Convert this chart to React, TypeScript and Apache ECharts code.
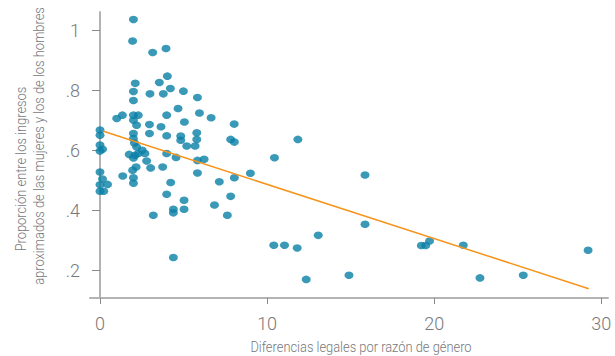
import React, { useEffect, useRef } from "react";
import * as echarts from "echarts";

// Legal gender differences (x) against the female/male earnings ratio (y), one value per economy.
const legalGap = [
  0, 0, 0, 0.15, 0, 0, 0.15, 0, 0.45, 0, 0.22,
  1.0, 1.34, 1.36,
  2.0, 1.95, 2.11, 2.0, 2.0, 2.0, 2.29, 2.0, 2.19, 2.0, 2.0, 2.06, 2.19, 2.53, 2.69, 1.75, 2.1, 2.29, 2.79, 2.0, 2.16, 1.95, 2.0, 2.0,
  3.15, 2.99, 2.96, 2.96, 3.03, 3.19,
  3.95, 4.03, 3.55, 3.79, 4.21, 3.99, 3.65, 3.99, 3.99, 3.75, 4.23, 3.99,
  4.99, 4.67, 5.05, 4.83, 4.83, 4.55, 4.39, 4.39, 5.03, 5.03, 4.39, 5.19,
  5.83, 5.95, 5.79, 5.79, 5.69, 5.83, 6.23, 5.83,
  6.65, 7.14, 6.85,
  8.03, 7.82, 8.04, 8.04, 7.82, 7.62,
  9.0, 10.44, 11.84, 10.4, 11.04, 11.8, 12.34, 13.06, 14.9, 15.86, 15.86,
  19.23, 19.49, 19.72, 21.74, 22.74, 25.33, 29.21,
];

const earningsRatio = [
  0.667, 0.65, 0.617, 0.603, 0.597, 0.527, 0.504, 0.485, 0.486, 0.463, 0.463,
  0.706, 0.717, 0.514,
  1.036, 0.964, 0.823, 0.796, 0.766, 0.717, 0.717, 0.7, 0.683, 0.656, 0.639, 0.624, 0.611, 0.6, 0.589, 0.586, 0.583, 0.589, 0.564, 0.574, 0.544, 0.533, 0.508, 0.49,
  0.926, 0.788, 0.686, 0.656, 0.541, 0.383,
  0.939, 0.847, 0.826, 0.788, 0.806, 0.717, 0.678, 0.648, 0.589, 0.544, 0.492, 0.453,
  0.797, 0.739, 0.694, 0.647, 0.633, 0.576, 0.403, 0.391, 0.433, 0.403, 0.242, 0.614,
  0.776, 0.724, 0.658, 0.636, 0.614, 0.566, 0.57, 0.524,
  0.708, 0.495, 0.417,
  0.687, 0.636, 0.627, 0.508, 0.446, 0.383,
  0.523, 0.575, 0.636, 0.283, 0.283, 0.274, 0.169, 0.316, 0.183, 0.517, 0.353,
  0.282, 0.282, 0.297, 0.283, 0.174, 0.183, 0.266,
];

// Fitted linear trend, given by its two end points.
const trendX = [0.2, 29.25];
const trendY = [0.663, 0.138];

const xTickValues = [0, 10, 20, 30];
const xTickLabels = ["0", "10", "20", "30"];
const yTickValues = [0.2, 0.4, 0.6, 0.8, 1];
const yTickLabels = [".2", ".4", ".6", ".8", "1"];

const xTitle = "Diferencias legales por razón de género";
const yTitleLine1 = "Proporción entre los ingresos";
const yTitleLine2 = "aproximados de las mujeres y los de los hombres";

const FONT = 'Roboto, "DejaVu Sans Condensed", sans-serif';
const TEXT_COLOR = "#77787b";
const AXIS_COLOR = "#b3b3b3";

// Titles use a narrow face in print; squeeze the installed font along the text direction.
const TITLE_SQUEEZE = 0.92;

export default function App() {
  const ref = useRef<HTMLDivElement>(null);

  useEffect(() => {
    if (!ref.current) return;
    const chart = echarts.init(ref.current, undefined, { renderer: "svg" });

    const points = legalGap.map((x, i) => [x, earningsRatio[i]]);
    const trend = trendX.map((x, i) => [x, trendY[i]]);

    const titleStyle = {
      fill: TEXT_COLOR,
      fontFamily: FONT,
      fontSize: 14,
      fontWeight: 300,
      align: "center",
      verticalAlign: "middle",
    };

    chart.setOption({
      animation: false,
      backgroundColor: "#ffffff",
      textStyle: { fontFamily: FONT },
      grid: { left: 90, right: 7, top: 12, bottom: 58, containLabel: false, outerBoundsMode: "none" },
      xAxis: {
        type: "value",
        min: -0.6,
        max: 30.4,
        axisLine: { show: true, lineStyle: { color: AXIS_COLOR, width: 2 } },
        axisTick: { show: true, length: 6, customValues: xTickValues, lineStyle: { color: "#8a8a8a", width: 1 } },
        axisLabel: {
          customValues: xTickValues,
          margin: 16,
          fontSize: 18,
          fontWeight: 300,
          color: TEXT_COLOR,
          fontFamily: FONT,
          formatter: (v: number) => xTickLabels[xTickValues.indexOf(v)] ?? String(v),
        },
        splitLine: { show: false },
      },
      yAxis: {
        type: "value",
        min: 0.107,
        max: 1.061,
        axisLine: { show: true, lineStyle: { color: AXIS_COLOR, width: 2 } },
        axisTick: { show: true, length: 8, customValues: yTickValues, lineStyle: { color: "#8a8a8a", width: 1 } },
        axisLabel: {
          customValues: yTickValues,
          margin: 10,
          fontSize: 18,
          fontWeight: 300,
          color: TEXT_COLOR,
          fontFamily: FONT,
          formatter: (v: number) => {
            const i = yTickValues.findIndex((t) => Math.abs(t - v) < 1e-6);
            return i >= 0 ? yTickLabels[i] : String(v);
          },
        },
        splitLine: { show: false },
      },
      graphic: [
        {
          type: "text",
          x: 361,
          y: 347,
          scaleX: TITLE_SQUEEZE,
          style: { ...titleStyle, text: xTitle },
        },
        {
          type: "text",
          x: 21,
          y: 169,
          rotation: Math.PI / 2,
          scaleX: TITLE_SQUEEZE,
          style: { ...titleStyle, text: yTitleLine1 },
        },
        {
          type: "text",
          x: 39,
          y: 146,
          rotation: Math.PI / 2,
          scaleX: TITLE_SQUEEZE,
          style: { ...titleStyle, text: yTitleLine2 },
        },
      ],
      series: [
        {
          type: "line",
          data: trend,
          showSymbol: false,
          symbol: "none",
          lineStyle: { color: "#f7941d", width: 1.5 },
          silent: true,
          z: 3,
        },
        {
          type: "scatter",
          data: points,
          symbol: "circle",
          symbolSize: [9, 7.5],
          itemStyle: { color: "#0a80a6" },
          z: 2,
        },
      ],
    });

    return () => chart.dispose();
  }, []);

  return (
    <div
      ref={ref}
      style={{ position: "fixed", left: 0, top: 0, width: 615, height: 356, background: "#fff" }}
    />
  );
}
